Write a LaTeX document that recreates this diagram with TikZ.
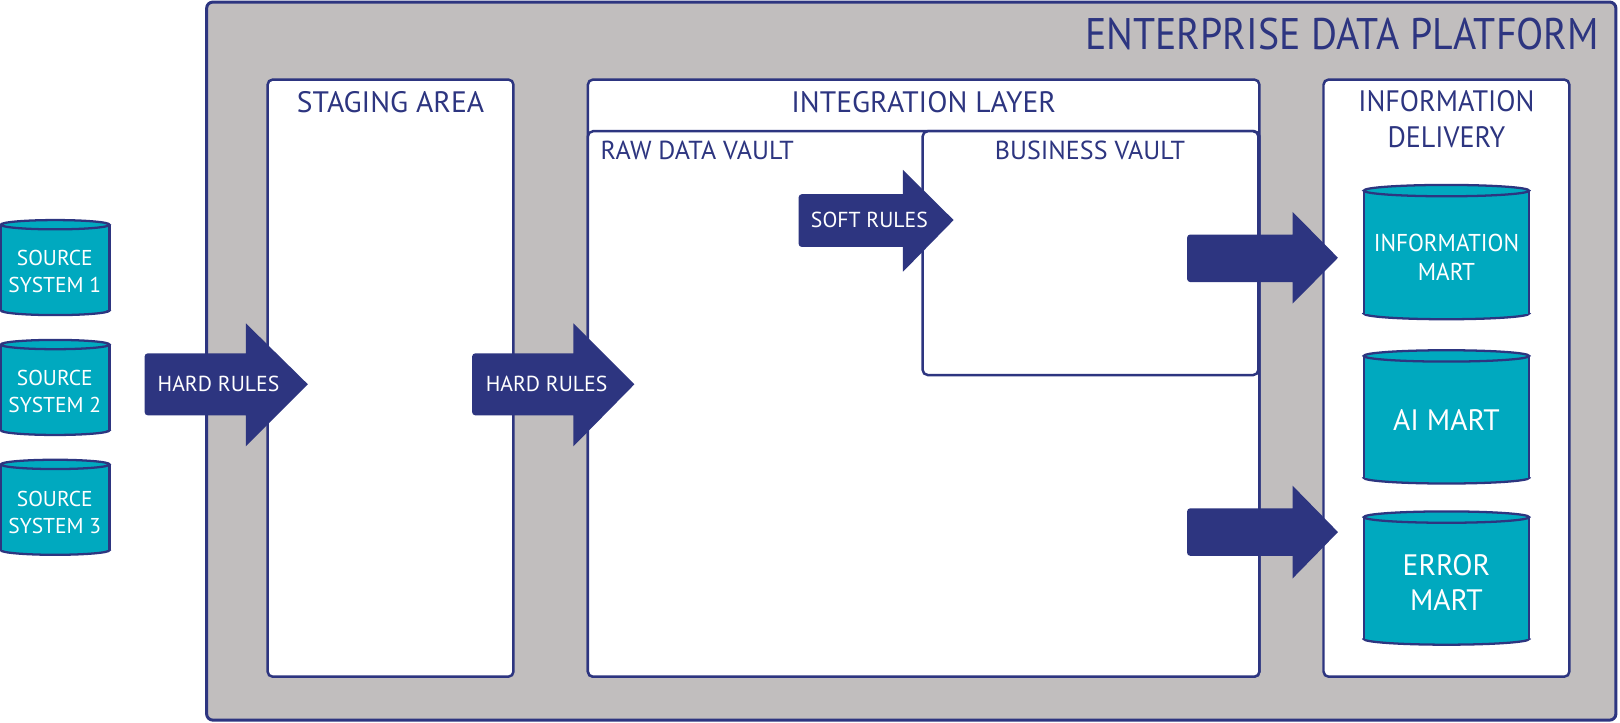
\documentclass[tikz,border=0pt]{standalone}
\usepackage{fontspec}
\setmainfont{PT Sans}
\newfontfamily\titlefont[FakeStretch=0.9]{PT Sans}
\newfontfamily\narrowfont[FakeStretch=0.95]{PT Sans}
\definecolor{navy}{RGB}{45,53,128}
\definecolor{cylteal}{RGB}{0,169,191}
\definecolor{platgray}{RGB}{193,190,190}
\newcommand\dbcyl[5]{%
  \draw[cylline,fill=cylteal] ({(#1+#3)/2},{#4-#5}) ellipse[x radius={(#3-#1)/2}, y radius=#5];
  \fill[cylteal] (#1,{#2+#5}) rectangle (#3,{#4-#5});
  \draw[cylline] (#1,{#2+#5}) -- (#1,{#4-#5}) (#3,{#2+#5}) -- (#3,{#4-#5});
  \draw[cylline,fill=cylteal] ({(#1+#3)/2},{#2+#5}) ellipse[x radius={(#3-#1)/2}, y radius=#5];
}
\begin{document}
\begin{tikzpicture}[x=0.5pt,y=-0.5pt,
  box/.style={draw=navy,line width=1.2pt,fill=white,rounded corners=2.5pt},
  cylline/.style={draw=navy,line width=1.1pt},
  blockarrow/.style={fill=navy},
  hdr/.style={text=navy,inner sep=0pt,font=\fontsize{14.3}{17.5}\selectfont,align=center},
  sub/.style={text=navy,inner sep=0pt,font=\fontsize{12.6}{15}\selectfont},
  rule/.style={text=white,inner sep=0pt,font=\fontsize{10.5}{12}\selectfont},
  cyltext/.style={text=white,inner sep=0pt,align=center}]
\useasboundingbox (0,0) rectangle (1568,699);

% platform
\draw[draw=navy,line width=1.45pt,fill=platgray,rounded corners=3pt] (200,2) rectangle (1564,697);
\node[text=navy,inner sep=0pt,anchor=east,font=\titlefont\fontsize{21.4}{24}\selectfont] (title) at (1548,32.6) {ENTERPRISE DATA PLATFORM};

% staging
\draw[box] (259,77) rectangle (497,655);
\node[hdr] (staging) at (378,99) {STAGING AREA};

% integration
\draw[box] (569,77) rectangle (1219,655);
\node[hdr] (integration) at (894,99) {INTEGRATION LAYER};
\draw[box] (569,127) rectangle (1219,655);
\node[sub,anchor=west] (raw) at (581,146) {RAW DATA VAULT};
\draw[box] (893,127) rectangle (1218,363);
\node[sub] (bv) at (1055,146) {BUSINESS VAULT};

% information delivery
\draw[box] (1281,77) rectangle (1519,655);
\node[hdr,font=\narrowfont\fontsize{14.3}{17.5}\selectfont] (delivery) at (1400,115.5) {INFORMATION\\DELIVERY};

% marts
\dbcyl{1320}{179}{1480}{309}{5.5}
\node[cyltext,font=\narrowfont\fontsize{11.8}{14}\selectfont] (im) at (1400,249) {INFORMATION\\MART};
\dbcyl{1320}{339}{1480}{468}{5.5}
\node[cyltext,font=\fontsize{14.3}{17}\selectfont] (ai) at (1400,406.5) {AI MART};
\dbcyl{1320}{495}{1480}{624}{5.5}
\node[cyltext,font=\fontsize{14.3}{17}\selectfont] (em) at (1400,564) {ERROR\\MART};

% sources
\dbcyl{0.8}{213}{106}{305}{4.5}
\node[cyltext,font=\fontsize{10.4}{13}\selectfont] (s1) at (53,263) {SOURCE\\SYSTEM 1};
\dbcyl{0.8}{329}{106}{421}{4.5}
\node[cyltext,font=\fontsize{10.4}{13}\selectfont] (s2) at (53,379) {SOURCE\\SYSTEM 2};
\dbcyl{0.8}{445}{106}{537}{4.5}
\node[cyltext,font=\fontsize{10.4}{13}\selectfont] (s3) at (53,496) {SOURCE\\SYSTEM 3};

% arrows
\fill[blockarrow] (238,342) -- (238,313) -- (298,372) -- (238,432) -- (238,402) [rounded corners=1.5pt] -- (140,402) -- (140,342) [sharp corners] -- cycle;
\node[rule] (hr1) at (211.5,372) {HARD RULES};
\fill[blockarrow] (555,342) -- (555,313) -- (614,372) -- (555,432) -- (555,402) [rounded corners=1.5pt] -- (457,402) -- (457,342) [sharp corners] -- cycle;
\node[rule] (hr2) at (529,372) {HARD RULES};
\fill[blockarrow] (874,188) -- (874,164.5) -- (923,213) -- (874,263) -- (874,239) [rounded corners=1.5pt] -- (773,239) -- (773,188) [sharp corners] -- cycle;
\node[rule] (sr) at (841.5,213) {SOFT RULES};
\fill[blockarrow] (1251,227) -- (1251,205) -- (1295,249.5) -- (1251,294) -- (1251,273) [rounded corners=1.5pt] -- (1149,273) -- (1149,227) [sharp corners] -- cycle;
\fill[blockarrow] (1251,492) -- (1251,470) -- (1295,515) -- (1251,560) -- (1251,538) [rounded corners=1.5pt] -- (1149,538) -- (1149,492) [sharp corners] -- cycle;
\end{tikzpicture}
\end{document}
